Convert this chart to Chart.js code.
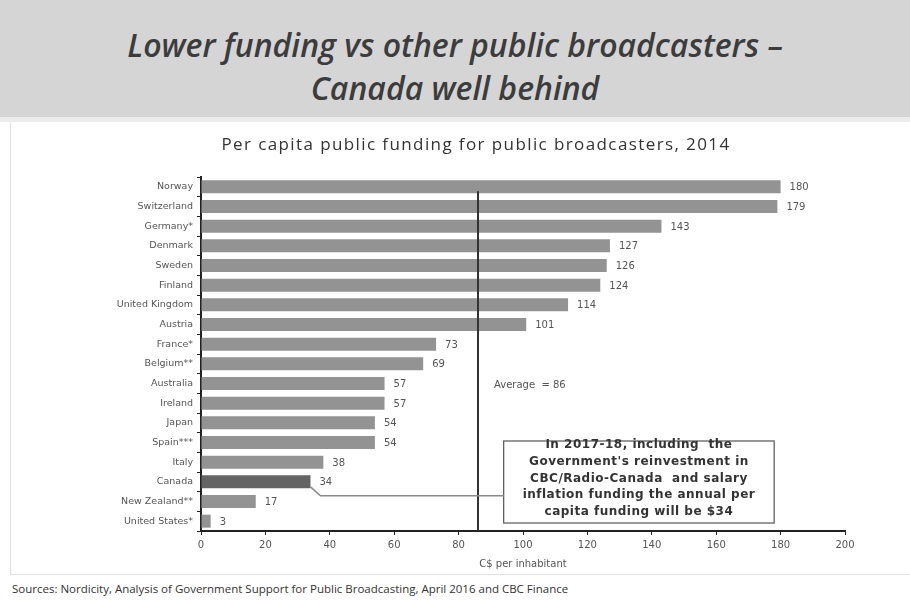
<!DOCTYPE html>
<html>
<head>
<meta charset="utf-8">
<script src="https://cdn.jsdelivr.net/npm/chart.js@4/dist/chart.umd.min.js"></script>
<style>
  body { margin: 0; width: 910px; height: 600px; background: #fff; position: relative; overflow: hidden; font-family: "Open Sans", sans-serif; }
  .band { position: absolute; left: 0; top: 0; width: 910px; height: 117px; background: #d5d5d5; border-bottom: 5px solid #ececec; }
  .band h1 { margin: 0; padding-top: 23px; text-align: center; font-style: italic; font-weight: 600; font-size: 32px; line-height: 43px; color: #3c3c3c; }
  .panel { position: absolute; left: 10px; top: 122px; width: 905px; height: 452px; border-left: 1px solid #e2e2e2; border-bottom: 1px solid #e2e2e2; }
  .source { position: absolute; left: 12px; top: 581px; font-size: 11.5px; color: #333; white-space: nowrap; }
  canvas { position: absolute; left: 0; top: 0; }
</style>
</head>
<body>
<div class="band"><h1>Lower funding vs other public broadcasters –<br>Canada well behind</h1></div>
<div class="panel"></div>
<div class="source">Sources: Nordicity, Analysis of Government Support for Public Broadcasting, April 2016 and CBC Finance</div>
<canvas id="chart" width="910" height="600"></canvas>
<script>
// per capita funding, C$ per inhabitant
const countries = ["Norway", "Switzerland", "Germany*", "Denmark", "Sweden", "Finland", "United Kingdom", "Austria",
  "France*", "Belgium**", "Australia", "Ireland", "Japan", "Spain***", "Italy", "Canada", "New Zealand**", "United States*"];
const funding = [180, 179, 143, 127, 126, 124, 114, 101, 73, 69, 57, 57, 54, 54, 38, 34, 17, 3];
const average = 86;
const xTicks = [0, 20, 40, 60, 80, 100, 120, 140, 160, 180, 200];
const noteLines = ["In 2017-18, including  the", "Government's reinvestment in", "CBC/Radio-Canada  and salary",
  "inflation funding the annual per", "capita funding will be $34"];

const labelFont = "10px 'DejaVu Sans'";

const barColors = countries.map(c => c === "Canada" ? "#646464" : "#939393");

// numbers at the end of each bar
const valueLabels = {
  id: "valueLabels",
  afterDatasetsDraw(chart) {
    const ctx = chart.ctx;
    const meta = chart.getDatasetMeta(0);
    ctx.save();
    ctx.font = labelFont;
    ctx.fillStyle = "#555";
    ctx.textBaseline = "middle";
    meta.data.forEach((bar, i) => {
      ctx.fillText(funding[i], bar.x + 9, bar.y + 1);
    });
    ctx.restore();
  }
};

// average line, chart title and the note box
const extras = {
  id: "extras",
  afterDatasetsDraw(chart) {
    const ctx = chart.ctx;
    const xs = chart.scales.x, ys = chart.scales.y;
    const area = chart.chartArea;
    const bars = chart.getDatasetMeta(0).data;
    ctx.save();

    ctx.font = "17px 'Open Sans'";
    ctx.letterSpacing = "1.4px";
    ctx.fillStyle = "#333";
    ctx.textAlign = "center";
    ctx.textBaseline = "middle";
    ctx.fillText("Per capita public funding for public broadcasters, 2014", 476, 145);
    ctx.letterSpacing = "0px";

    const ax = Math.round(xs.getPixelForValue(average));
    ctx.strokeStyle = "#333";
    ctx.lineWidth = 2;
    ctx.beginPath();
    ctx.moveTo(ax, bars[0].y + bars[0].height / 2 - 2);
    ctx.lineTo(ax, area.bottom);
    ctx.stroke();

    ctx.font = labelFont;
    ctx.fillStyle = "#555";
    ctx.textAlign = "left";
    ctx.fillText("Average  = " + average, ax + 16, ys.getPixelForValue(10) + 2);

    // note box
    const bx = xs.getPixelForValue(94), bw = xs.getPixelForValue(178) - bx;
    const by = area.bottom - 90, bh = 82;
    ctx.strokeStyle = "#555";
    ctx.lineWidth = 1.2;
    ctx.strokeRect(bx, by, bw, bh);
    ctx.font = "bold 12px 'DejaVu Sans'";
    ctx.letterSpacing = "0.5px";
    ctx.fillStyle = "#333";
    ctx.textAlign = "center";
    noteLines.forEach((t, i) => ctx.fillText(t, bx + bw / 2, by + 4 + i * 16.7));
    ctx.letterSpacing = "0px";

    // connector from the Canada bar to the box
    const ci = countries.indexOf("Canada");
    const cx = bars[ci].x, cy = bars[ci].y;
    ctx.strokeStyle = "#8a8a8a";
    ctx.lineWidth = 1.5;
    ctx.beginPath();
    ctx.moveTo(cx, cy + 5);
    ctx.lineTo(cx + 10, cy + 14);
    ctx.lineTo(bx, cy + 14);
    ctx.stroke();

    ctx.restore();
  }
};

new Chart(document.getElementById("chart"), {
  type: "bar",
  data: {
    labels: countries,
    datasets: [{
      data: funding,
      backgroundColor: barColors,
      barPercentage: 0.66,
      categoryPercentage: 1
    }]
  },
  options: {
    indexAxis: "y",
    responsive: false,
    animation: false,
    layout: { padding: { top: 177, right: 65, bottom: 30, left: 0 } },
    plugins: { legend: { display: false }, tooltip: { enabled: false } },
    scales: {
      x: {
        min: 0, max: 200,
        afterBuildTicks: (s) => { s.ticks = xTicks.map(v => ({ value: v })); },
        afterFit: (s) => { s.height = 39; },
        border: { display: true, color: "#222", width: 2 },
        grid: { drawOnChartArea: false, drawTicks: true, tickLength: 4, color: "#222" },
        ticks: { font: { family: "DejaVu Sans", size: 10 }, color: "#555", padding: 4 },
        title: { display: true, text: "C$ per inhabitant", font: { family: "DejaVu Sans", size: 10 }, color: "#555", padding: { top: 4, bottom: 0 } }
      },
      y: {
        afterFit: (s) => { s.width = 201; },
        border: { display: true, color: "#222", width: 2 },
        grid: { drawOnChartArea: false, drawTicks: true, tickLength: 4, color: "#222" },
        ticks: { font: { family: "DejaVu Sans", size: 9.5 }, color: "#555", padding: 4 }
      }
    }
  },
  plugins: [valueLabels, extras]
});
</script>
</body>
</html>
